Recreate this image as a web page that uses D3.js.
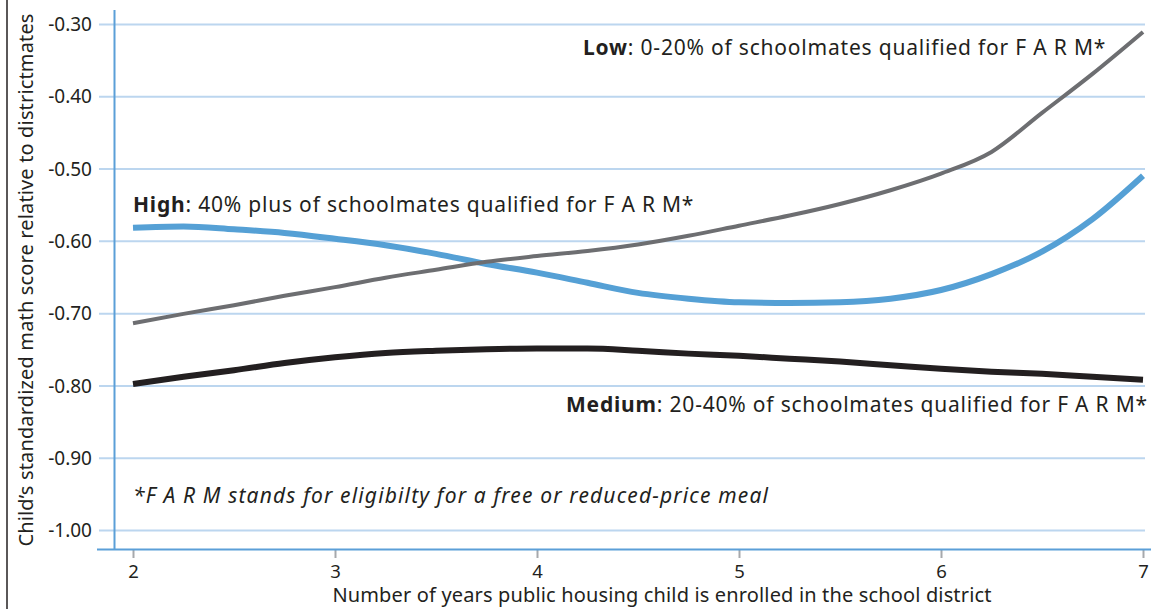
<!DOCTYPE html>
<html>
<head>
<meta charset="utf-8">
<script src="https://cdn.jsdelivr.net/npm/d3@7"></script>
<style>
  html, body { margin: 0; padding: 0; background: #fff; }
  svg { display: block; }
  text { font-family: "Noto Sans", "Open Sans", sans-serif; fill: #231f20; }
</style>
</head>
<body>
<svg id="chart" width="1151" height="609"></svg>
<script>
// ---- data ----
const years = [2, 2.25, 2.5, 2.75, 3, 3.25, 3.5, 3.75, 4, 4.25, 4.5, 4.75, 5, 5.25, 5.5, 5.75, 6, 6.25, 6.5, 6.75, 7];
const lowValues = [-0.714, -0.701, -0.689, -0.676, -0.664, -0.651, -0.640, -0.629, -0.621, -0.614, -0.605, -0.593, -0.579, -0.565, -0.549, -0.530, -0.507, -0.477, -0.423, -0.369, -0.311];
const highValues = [-0.582, -0.580, -0.584, -0.589, -0.597, -0.606, -0.618, -0.632, -0.644, -0.658, -0.672, -0.680, -0.685, -0.686, -0.685, -0.680, -0.668, -0.646, -0.615, -0.570, -0.510];
const mediumValues = [-0.798, -0.788, -0.779, -0.769, -0.761, -0.755, -0.752, -0.750, -0.749, -0.749, -0.752, -0.756, -0.759, -0.763, -0.767, -0.772, -0.777, -0.781, -0.784, -0.788, -0.792];
const xTicks = [2, 3, 4, 5, 6, 7];
const yTicks = [-0.3, -0.4, -0.5, -0.6, -0.7, -0.8, -0.9, -1.0];
const yTitle = "Child’s standardized math score relative to districtmates";
const xTitle = "Number of years public housing child is enrolled in the school district";
const footnote = "*F A R M stands for eligibilty for a free or reduced-price meal";

const svg = d3.select("#chart");
const x = d3.scaleLinear().domain([2, 7]).range([133, 1143]);
const y = d3.scaleLinear().domain([-1.0, -0.3]).range([530, 24]);

// left border line
svg.append("line").attr("x1", 7).attr("x2", 7).attr("y1", 0).attr("y2", 609)
  .attr("stroke", "#231f20").attr("stroke-width", 1.5);

// gridlines + y labels via axis
const yAxis = d3.axisLeft(y).tickValues(yTicks).tickFormat(d => d.toFixed(2))
  .tickSize(0).tickPadding(0);
const gy = svg.append("g").attr("transform", "translate(99,0)").call(yAxis);
gy.select(".domain").remove();
gy.selectAll("text").attr("x", -7).attr("dy", "0.35em")
  .style("font-size", "19px").style("font-family", "'Noto Sans', sans-serif").attr("fill", "#231f20");
gy.selectAll(".tick").append("line")
  .attr("x1", 0).attr("x2", 1046).attr("y1", 0).attr("y2", 0)
  .attr("stroke", "#bcd6ef").attr("stroke-width", 2);

// y axis line
svg.append("line").attr("x1", 114.5).attr("x2", 114.5).attr("y1", 10).attr("y2", 549)
  .attr("stroke", "#5b9fd8").attr("stroke-width", 2);

// x axis
const xAxis = d3.axisBottom(x).tickValues(xTicks).tickFormat(d3.format("d"))
  .tickSize(8).tickPadding(7);
const gx = svg.append("g").attr("transform", "translate(0,550)").call(xAxis);
gx.select(".domain").remove();
gx.selectAll(".tick line").attr("stroke", "#a7a9ac").attr("stroke-width", 2);
gx.selectAll("text").style("font-size", "18.5px").style("font-family", "'Noto Sans', sans-serif").attr("fill", "#231f20");
svg.append("line").attr("x1", 97).attr("x2", 1151).attr("y1", 549.5).attr("y2", 549.5)
  .attr("stroke", "#5b9fd8").attr("stroke-width", 2);

// lines
const series = [
  { values: mediumValues, color: "#231f20", width: 6 },
  { values: highValues, color: "#55a0d5", width: 6 },
  { values: lowValues, color: "#6d6e71", width: 4 }
];
const line = d3.line().x((d, i) => x(years[i])).y(d => y(d)).curve(d3.curveMonotoneX);
series.forEach(s => {
  svg.append("path").attr("d", line(s.values)).attr("fill", "none")
    .attr("stroke", s.color).attr("stroke-width", s.width);
});

// annotations
function label(xp, yp, bold, rest) {
  const t = svg.append("text").attr("x", xp).attr("y", yp)
    .style("font-size", "21px").style("letter-spacing", "0.8px");
  t.append("tspan").attr("font-weight", "bold").text(bold);
  t.append("tspan").text(rest);
}
label(583, 55, "Low", ": 0-20% of schoolmates qualified for F A R M*");
label(133, 212, "High", ": 40% plus of schoolmates qualified for F A R M*");
label(566, 412, "Medium", ": 20-40% of schoolmates qualified for F A R M*");

svg.append("text").attr("x", 133).attr("y", 503).attr("font-style", "italic")
  .style("font-size", "21px").style("letter-spacing", "1.15px").text(footnote);

// axis titles
svg.append("text").attr("transform", "translate(33,280) rotate(-90)")
  .attr("text-anchor", "middle").style("font-size", "20px").style("letter-spacing", "0.15px").text(yTitle);
svg.append("text").attr("x", 662).attr("y", 602)
  .attr("text-anchor", "middle").style("font-size", "20px").style("letter-spacing", "0.15px").text(xTitle);
</script>
</body>
</html>
